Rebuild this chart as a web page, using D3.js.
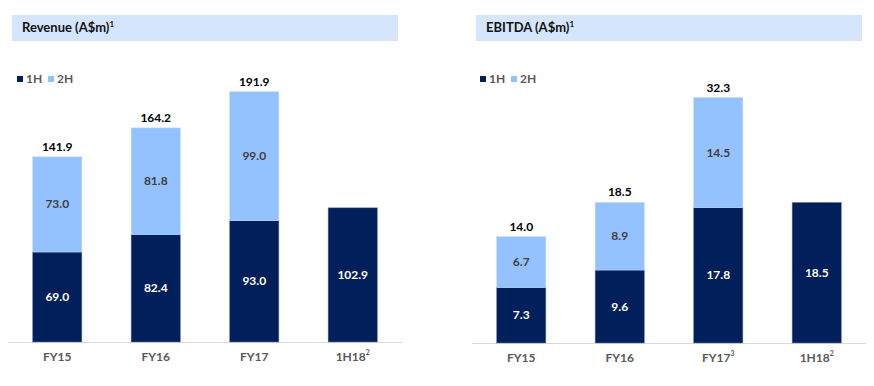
<!DOCTYPE html>
<html>
<head>
<meta charset="utf-8">
<script src="https://cdn.jsdelivr.net/npm/d3@7"></script>
<style>
  body { margin: 0; background: #fff; }
  svg { font-family: Lato, "Open Sans", sans-serif; font-weight: bold; }
</style>
</head>
<body>
<svg id="chart" width="874" height="386"></svg>
<script>
// data
const periods = ["FY15", "FY16", "FY17", "1H18"];
const revenue1H = [69.0, 82.4, 93.0, 102.9];
const revenue2H = [73.0, 81.8, 99.0, null];
const revenueTotal = [141.9, 164.2, 191.9, null];
const ebitda1H = [7.3, 9.6, 17.8, 18.5];
const ebitda2H = [6.7, 8.9, 14.5, null];
const ebitdaTotal = [14.0, 18.5, 32.3, null];
const revenueNotes = ["", "", "", "2"];
const ebitdaNotes = ["", "", "3", "2"];
const legendKeys = ["1H", "2H"];

const navy = "#001F5B", light = "#94C2FF";
const svg = d3.select("#chart");

function panel(opt) {
    const g = svg.append("g");

    // title band
    g.append("rect")
        .attr("x", opt.left + 4).attr("y", 15)
        .attr("width", 386).attr("height", 26)
        .attr("fill", "#D5E6FC");
    const t = g.append("text")
        .attr("x", opt.titleX).attr("y", 32)
        .attr("font-size", 13).attr("fill", "#111")
        .text(opt.title);
    t.append("tspan").attr("dy", -5).attr("font-size", 8).text("1");

    // legend
    const lg = g.selectAll(".lg").data(legendKeys).join("g")
        .attr("transform", (d, i) => `translate(${opt.legendX + i * 31},79)`);
    lg.append("rect").attr("x", 0).attr("y", -3).attr("width", 6).attr("height", 6)
        .attr("fill", (d, i) => i === 0 ? navy : light);
    lg.append("text").attr("x", 9).attr("y", 4).attr("font-size", 12)
        .attr("fill", "#595959").text(d => d);

    const x = d3.scaleBand().domain(periods)
        .range([opt.left, opt.left + 394]).paddingInner(0.5).paddingOuter(0.25);
    const y = d3.scaleLinear().domain([0, opt.max]).range([opt.base, opt.top]);

    // axis line
    g.append("line")
        .attr("x1", opt.left).attr("x2", opt.left + 394)
        .attr("y1", opt.base + 0.5).attr("y2", opt.base + 0.5)
        .attr("stroke", "#d9d9d9");

    // 1H bars
    g.selectAll(".b1").data(periods).join("rect")
        .attr("x", d => x(d)).attr("width", x.bandwidth())
        .attr("y", (d, i) => y(opt.h1[i]))
        .attr("height", (d, i) => y(0) - y(opt.h1[i]))
        .attr("fill", navy).attr("stroke", "#6d86b3").attr("stroke-width", 0.5);

    // 2H bars
    const idx2 = periods.map((d, i) => i).filter(i => opt.h2[i] != null);
    g.selectAll(".b2").data(idx2).join("rect")
        .attr("x", i => x(periods[i])).attr("width", x.bandwidth())
        .attr("y", i => y(opt.h1[i] + opt.h2[i]))
        .attr("height", i => y(opt.h1[i]) - y(opt.h1[i] + opt.h2[i]))
        .attr("fill", light).attr("stroke", "#c4dcff").attr("stroke-width", 0.5);

    // labels
    g.selectAll(".l1").data(periods).join("text")
        .attr("x", d => x(d) + x.bandwidth() / 2)
        .attr("y", (d, i) => (y(0) + y(opt.h1[i])) / 2 + 4)
        .attr("text-anchor", "middle").attr("font-size", 12).attr("fill", "#fff")
        .text((d, i) => opt.h1[i].toFixed(1));
    g.selectAll(".l2").data(idx2).join("text")
        .attr("x", i => x(periods[i]) + x.bandwidth() / 2)
        .attr("y", i => (y(opt.h1[i]) + y(opt.h1[i] + opt.h2[i])) / 2 + 4)
        .attr("text-anchor", "middle").attr("font-size", 12).attr("fill", "#404040")
        .text(i => opt.h2[i].toFixed(1));
    g.selectAll(".lt").data(idx2).join("text")
        .attr("x", i => x(periods[i]) + x.bandwidth() / 2)
        .attr("y", i => y(opt.total[i]) - 6)
        .attr("text-anchor", "middle").attr("font-size", 12).attr("fill", "#000")
        .text(i => opt.total[i].toFixed(1));

    // category labels
    const cl = g.selectAll(".cl").data(periods).join("text")
        .attr("x", d => x(d) + x.bandwidth() / 2)
        .attr("y", opt.base + 19)
        .attr("text-anchor", "middle").attr("font-size", 12).attr("fill", "#595959");
    cl.append("tspan").text(d => d);
    cl.append("tspan").attr("dy", -6).attr("font-size", 7)
        .text((d, i) => opt.notes[i]);
}

panel({
    title: "Revenue (A$m)", titleX: 22, left: 8, legendX: 17,
    h1: revenue1H, h2: revenue2H, total: revenueTotal, notes: revenueNotes,
    max: 250, base: 342, top: 16
});
panel({
    title: "EBITDA (A$m)", titleX: 486, left: 472, legendX: 480,
    h1: ebitda1H, h2: ebitda2H, total: ebitdaTotal, notes: ebitdaNotes,
    max: 40, base: 343, top: 39
});
</script>
</body>
</html>
